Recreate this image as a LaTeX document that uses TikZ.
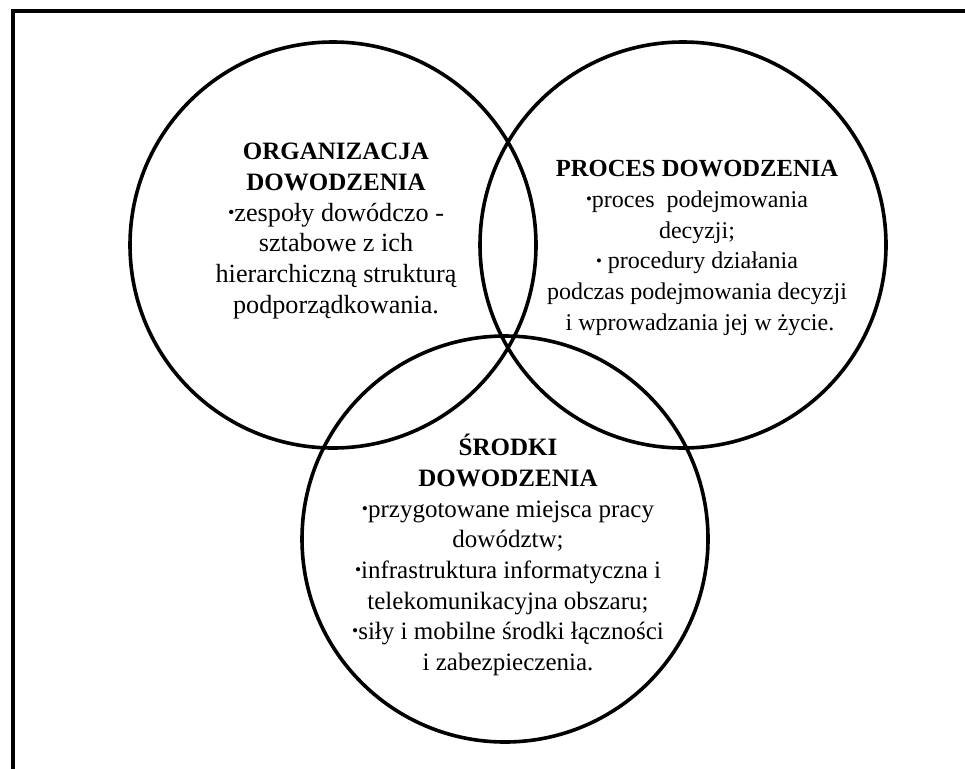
\documentclass[tikz,border=0pt]{standalone}
\usepackage{fontspec}
\setmainfont{Liberation Serif}
\usepackage{graphicx}
\usepackage{tikz}

\newcommand{\bul}{\raisebox{0.25ex}{\scalebox{0.7}{•}}}
\newcommand{\txt}[1]{\fontsize{#1}{30.7}\selectfont}

\tikzset{
	frame/.style={line width=4.5pt},
	ring/.style={draw,circle,line width=3.6pt,minimum size=406pt,inner sep=0pt},
	body/.style={align=center,font=\txt{25},inner sep=0pt}
}

\begin{document}
\begin{tikzpicture}[x=1pt,y=-1pt]
	\useasboundingbox (0,0) rectangle (965,768);
	\draw[frame] (13,780) -- (13,11) -- (980,11);

	\node(org)[ring] at (333,245) {};
	\node(proc)[ring] at (683,245) {};
	\node(srod)[ring] at (505,539) {};

	\node(orgtxt)[body,font=\txt{26.2}] at (336,231) {{\txt{25}\textbf{ORGANIZACJA}}\\ {\txt{25}\textbf{DOWODZENIA}}\\
		\bul zespoły dowódczo -\\ sztabowe z ich\\ hierarchiczną strukturą\\ podporządkowania.};
	\node(proctxt)[body,font=\txt{24}] at (697,248) {{\txt{24.6}\textbf{PROCES DOWODZENIA}}\\
		\bul proces\ \ podejmowania\\ decyzji;\\ \bul\ procedury działania\\
		podczas podejmowania decyzji\\ \ i wprowadzania jej w życie.};
	\node(srodtxt)[body] at (508,555) {\textbf{ŚRODKI}\\ \textbf{DOWODZENIA}\\
		\bul przygotowane miejsca pracy\\ dowództw;\\ \bul infrastruktura informatyczna i\\
		telekomunikacyjna obszaru;\\ \bul siły i mobilne środki łączności\\ i zabezpieczenia.};
\end{tikzpicture}
\end{document}
